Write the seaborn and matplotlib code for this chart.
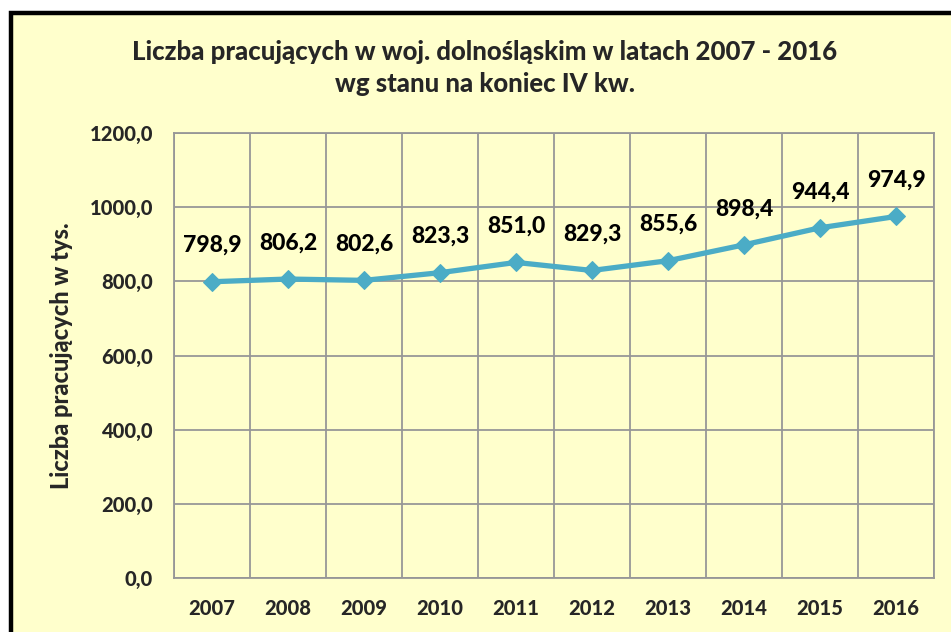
import matplotlib
matplotlib.use("Agg")
import matplotlib.pyplot as plt
from matplotlib.patches import Rectangle
import seaborn as sns
import pandas as pd
import numpy as np

years = ["2007", "2008", "2009", "2010", "2011", "2012", "2013", "2014", "2015", "2016"]
values = [798.9, 806.2, 802.6, 823.3, 851.0, 829.3, 855.6, 898.4, 944.4, 974.9]
y_ticks = [0, 200, 400, 600, 800, 1000, 1200]
title = "Liczba pracujących w woj. dolnośląskim w latach 2007 - 2016\nwg stanu na koniec IV kw."
ylabel = "Liczba pracujących w tys."

sns.set_style("white")
plt.rcParams['font.family'] = ['Lato', 'DejaVu Sans']
W = "black"

BG = "#FFFFCC"
GRID = "#979797"
LINE = "#4BACC6"

fig = plt.figure(figsize=(9.51, 6.32), dpi=100)
fig.patch.set_facecolor("white")
fig.patches.append(Rectangle((11 / 951, -0.02), 1.05, (632 - 13) / 632 + 0.02,
                             transform=fig.transFigure, facecolor=BG,
                             edgecolor="black", linewidth=3.2, zorder=-10))

ax = fig.add_axes([174 / 951, 1 - 578 / 632, (934 - 174) / 951, (578 - 133) / 632])
ax.set_zorder(5)
ax.set_facecolor(BG)

df = pd.DataFrame({"year": years, "value": values})
df["pos"] = np.arange(len(years))
sns.lineplot(data=df, x="pos", y="value", ax=ax, color=LINE, linewidth=3.8,
             marker="D", markersize=9.5, markeredgecolor=LINE, markerfacecolor=LINE)

ax.set_xlim(-0.5, len(years) - 0.5)
ax.set_ylim(0, 1200)
ax.set_yticks(y_ticks)
ax.set_yticklabels([f"{t:.1f}".replace(".", ",") for t in y_ticks],
                   fontsize=14.5, fontweight=W)
ax.set_xticks(np.arange(len(years)))
ax.set_xticklabels(years, fontsize=14.5, fontweight=W)
ax.set_xticks(np.arange(-0.5, len(years), 1), minor=True)
ax.tick_params(axis="both", which="both", length=0)
ax.tick_params(axis="y", pad=15)
ax.tick_params(axis="x", pad=15)

ax.grid(False)
ax.yaxis.grid(True, which="major", color=GRID, linewidth=1.3)
ax.xaxis.grid(True, which="minor", color=GRID, linewidth=1.3)
for s in ax.spines.values():
    s.set_color(GRID)
    s.set_linewidth(1.3)

for x, v in zip(df["pos"], values):
    ax.annotate(f"{v:.1f}".replace(".", ","), (x, v), xytext=(0, 26),
                textcoords="offset points", ha="center", va="center",
                fontsize=16.5, fontweight=W, color="black")

ax.set_xlabel("")
ax.set_ylabel(ylabel, fontsize=17, fontweight=W, labelpad=12)

fig.text(485 / 951, 1 - 68 / 632, title, ha="center", va="center",
         fontsize=18.5, fontweight=W, linespacing=1.4)

fig.savefig("out.png", dpi=100, facecolor=fig.get_facecolor())
